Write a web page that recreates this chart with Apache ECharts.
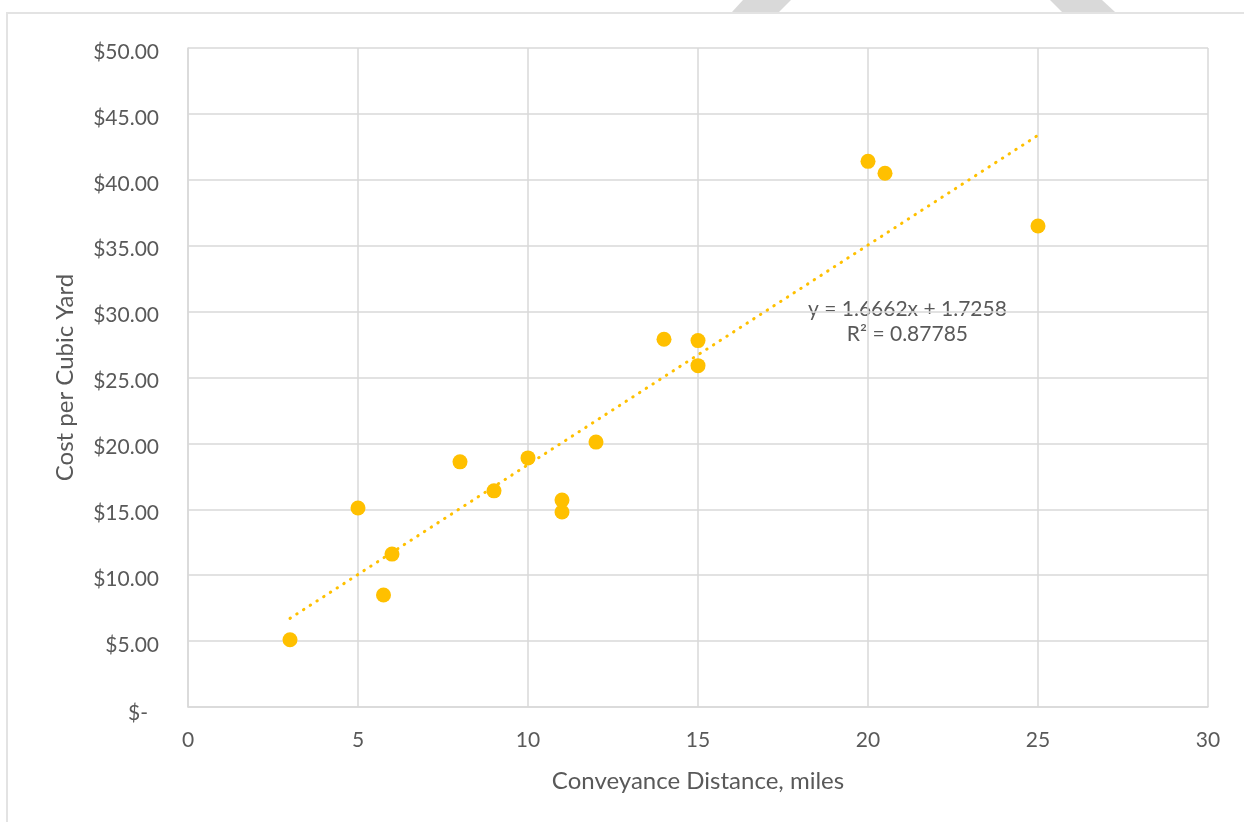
<!DOCTYPE html>
<html>
<head>
<meta charset="utf-8">
<title>Cost per Cubic Yard vs Conveyance Distance</title>
<script src="https://cdn.jsdelivr.net/npm/echarts@6/dist/echarts.min.js"></script>
<style>
  html, body { margin: 0; padding: 0; background: #ffffff; }
  #chart { width: 1244px; height: 822px; }
</style>
</head>
<body>
<div id="chart"></div>
<script>
// Conveyance distance (miles) for each project
const distanceMiles = [3, 5, 5.75, 6, 8, 9, 10, 11, 11, 12, 14, 15, 15, 20, 20.5, 25];
// Cost per cubic yard (USD) for each project
const costPerCubicYard = [5.1, 15.1, 8.5, 11.6, 18.6, 16.4, 18.9, 15.7, 14.8, 20.1, 27.9, 27.8, 25.9, 41.4, 40.5, 36.5];

// Linear trendline fitted in the workbook: y = slope * x + intercept
const trendSlope = [1.6662];
const trendIntercept = [1.7258];
const trendRSquared = [0.87785];

// Axis ticks
const xTicks = [0, 5, 10, 15, 20, 25, 30];
const yTicks = [0, 5, 10, 15, 20, 25, 30, 35, 40, 45, 50];

const textColor = '#595959';
const gridColor = '#d9d9d9';
const pointColor = '#FFC000';
const fontFamily = 'Lato, "Open Sans", sans-serif';

const points = distanceMiles.map((x, i) => [x, costPerCubicYard[i]]);
const xFirst = Math.min(...distanceMiles);
const xLast = Math.max(...distanceMiles);
const trendPoints = [xFirst, xLast].map(x => [x, trendSlope[0] * x + trendIntercept[0]]);

const chart = echarts.init(document.getElementById('chart'), null, { renderer: 'canvas' });

chart.setOption({
  backgroundColor: '#ffffff',
  animation: false,
  textStyle: { fontFamily: fontFamily },
  grid: { left: 188, right: 36, top: 48, bottom: 115, containLabel: false },
  xAxis: {
    type: 'value',
    min: xTicks[0],
    max: xTicks[xTicks.length - 1],
    interval: xTicks[1] - xTicks[0],
    name: 'Conveyance Distance, miles',
    nameLocation: 'middle',
    nameGap: 62,
    nameTextStyle: { color: textColor, fontSize: 24, fontFamily: fontFamily },
    axisLine: { show: true, lineStyle: { color: gridColor, width: 1.5 } },
    axisTick: { show: false },
    splitLine: { show: true, lineStyle: { color: gridColor, width: 1.5 } },
    axisLabel: { color: textColor, fontSize: 21, margin: 23, fontFamily: fontFamily }
  },
  yAxis: {
    type: 'value',
    min: yTicks[0],
    max: yTicks[yTicks.length - 1],
    interval: yTicks[1] - yTicks[0],
    name: 'Cost per Cubic Yard',
    nameLocation: 'middle',
    nameRotate: 90,
    nameGap: 111,
    nameTextStyle: { color: textColor, fontSize: 24, fontFamily: fontFamily },
    axisLine: { show: true, lineStyle: { color: gridColor, width: 1.5 } },
    axisTick: { show: false },
    splitLine: { show: true, lineStyle: { color: gridColor, width: 1.5 } },
    axisLabel: {
      color: textColor,
      fontSize: 21,
      margin: 29,
      fontFamily: fontFamily,
      padding: [8, 0, 0, 0],
      formatter: v => (v === 0 ? '{z|$-}' : '$' + v.toFixed(2)),
      rich: {
        z: { color: textColor, fontSize: 21, fontFamily: fontFamily, padding: [4, 11, 0, 0] }
      }
    }
  },
  series: [
    {
      name: 'Trendline',
      type: 'line',
      data: trendPoints,
      showSymbol: false,
      silent: true,
      z: 1,
      lineStyle: { color: pointColor, width: 3, opacity: 1, type: [0.5, 7.5], cap: 'round' }
    },
    {
      name: 'Cost per Cubic Yard',
      type: 'scatter',
      data: points,
      symbol: 'circle',
      symbolSize: 15,
      z: 2,
      itemStyle: { color: pointColor, opacity: 1 }
    }
  ],
  graphic: [
    {
      type: 'polyline',
      silent: true,
      shape: { points: [[7, 830], [7, 13], [1250, 13]] },
      style: { stroke: '#e3e3e3', lineWidth: 2, fill: null }
    },
    {
      type: 'polygon',
      silent: true,
      shape: { points: [[743, 0], [791, 0], [779, 12], [732, 12]] },
      style: { fill: '#d9d9d9' }
    },
    {
      type: 'polygon',
      silent: true,
      shape: { points: [[1050, 0], [1102, 0], [1115, 12], [1062, 12]] },
      style: { fill: '#d9d9d9' }
    },
    {
      type: 'text',
      silent: true,
      left: 808,
      top: 297,
      style: {
        text: 'y = ' + trendSlope[0].toFixed(4) + 'x + ' + trendIntercept[0].toFixed(4) + '\nR\u00B2 = ' + trendRSquared[0].toFixed(5),
        fill: textColor,
        font: '21px ' + fontFamily,
        lineHeight: 25,
        textAlign: 'center',
        x: 100
      }
    }
  ]
});
</script>
</body>
</html>
